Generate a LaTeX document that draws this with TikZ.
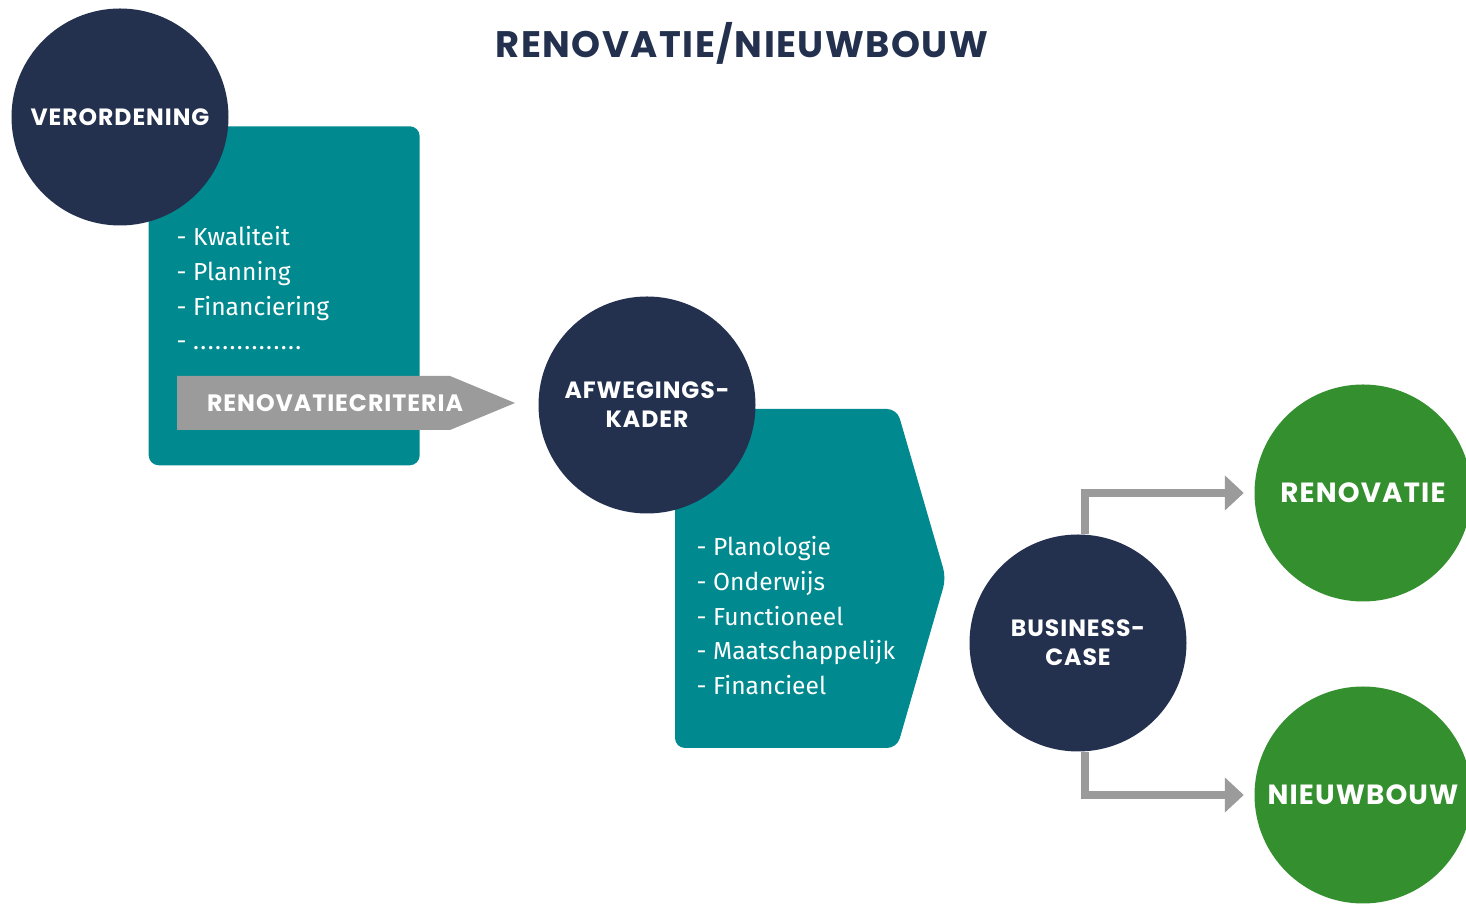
\documentclass[tikz,border=0pt]{standalone}
\usepackage{fontspec}
\setmainfont{Fira Sans}
\newfontfamily\headfont{Poppins}[LetterSpace=4.0]
\usetikzlibrary{arrows.meta,positioning}

\definecolor{darknavy}{RGB}{35,49,79}
\definecolor{boxteal}{RGB}{0,137,143}
\definecolor{arrowgray}{RGB}{155,155,155}
\definecolor{leafgreen}{RGB}{52,143,46}

\begin{document}
\begin{tikzpicture}
        \tikzstyle{hub} = [circle,fill=darknavy,text=white,minimum size=2.17cm,inner sep=0pt,align=center,font=\headfont\bfseries\fontsize{6.7}{8.2}\selectfont]
        \tikzstyle{outcome} = [circle,fill=leafgreen,text=white,minimum size=2.17cm,inner sep=0pt,font=\headfont\bfseries\fontsize{7.9}{10}\selectfont]
        \tikzstyle{crit} = [text=white,align=left,anchor=north west,inner sep=0pt,font=\fontsize{7}{9.87}\selectfont]
        \tikzstyle{flow} = [draw=arrowgray,line width=2pt,-{Triangle[length=0.19cm,width=0.34cm]},shorten >=0.1cm]

        \clip (0,0) rectangle (14.66,9.04);

        % heading
        \node[text=darknavy,font=\headfont\bfseries\fontsize{10.5}{12}\selectfont] (title) at (7.42,8.61) {RENOVATIE/NIEUWBOUW};

        % stage 1: regulation and its criteria
        \node[fill=boxteal,rounded corners=0.1cm,minimum width=2.71cm,minimum height=3.39cm,anchor=south west,inner sep=0pt] (box1) at (1.48,4.38) {};
        \node[hub] (verord) at (1.20,7.87) {VERORDENING};
        \node[crit] (list1) at (1.76,6.78) {- Kwaliteit\\- Planning\\- Financiering\\- {\addfontfeature{LetterSpace=5.7}...............}};
        \fill[arrowgray] (1.77,4.74) -- (4.50,4.74) -- (5.15,5.01) -- (4.50,5.28) -- (1.77,5.28) -- cycle;
        \node[text=white,font=\headfont\bfseries\fontsize{6.75}{8}\selectfont] (critlabel) at (3.35,5.01) {RENOVATIECRITERIA};

        % stage 2: weighing framework
        \fill[boxteal,rounded corners=0.1cm] (6.75,1.56) -- (6.75,4.95) -- (8.97,4.95) -- (9.46,3.26) -- (8.97,1.56) -- cycle;
        \node[hub] (afweg) at (6.47,4.99) {AFWEGINGS-\\KADER};
        \node[crit] (list2) at (6.96,3.68) {- Planologie\\- Onderwijs\\- Functioneel\\- Maatschappelijk\\- Financieel};

        % stage 3: business case and outcome
        \node[hub] (bcase) at (10.78,2.61) {BUSINESS-\\CASE};
        \node[outcome] (renov) at (13.63,4.11) {RENOVATIE};
        \node[outcome] (nieuw) at (13.63,1.09) {NIEUWBOUW};
        \draw[flow] ([xshift=0.07cm]bcase.north) |- (renov.west);
        \draw[flow] ([xshift=0.07cm]bcase.south) |- (nieuw.west);
\end{tikzpicture}
\end{document}
